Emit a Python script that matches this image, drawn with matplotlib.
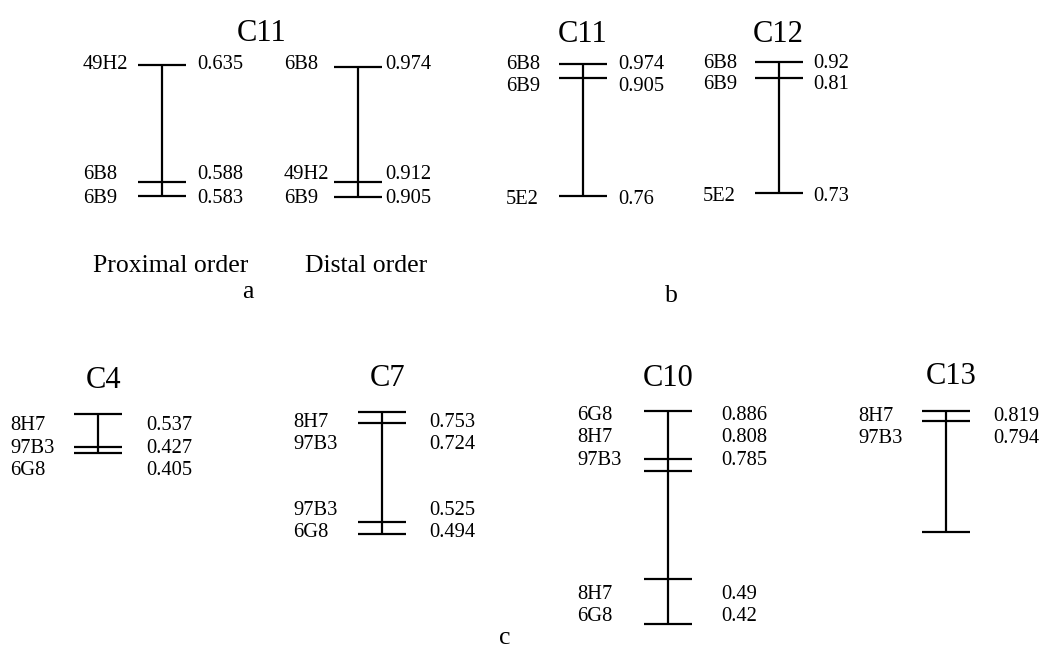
import matplotlib
matplotlib.use('Agg')
import matplotlib.pyplot as plt

plt.rcParams['font.family'] = 'Liberation Serif'

# marker names and recombination values for each linkage group
a_prox_names = ['49H2', '6B8', '6B9']
a_prox_vals = [0.635, 0.588, 0.583]
a_dist_names = ['6B8', '49H2', '6B9']
a_dist_vals = [0.974, 0.912, 0.905]

b_c11_names = ['6B8', '6B9', '5E2']
b_c11_vals = [0.974, 0.905, 0.76]
b_c12_names = ['6B8', '6B9', '5E2']
b_c12_vals = [0.92, 0.81, 0.73]

c4_names = ['8H7', '97B3', '6G8']
c4_vals = [0.537, 0.427, 0.405]
c7_names = ['8H7', '97B3', '97B3', '6G8']
c7_vals = [0.753, 0.724, 0.525, 0.494]
c10_names = ['6G8', '8H7', '97B3', '8H7', '6G8']
c10_vals = [0.886, 0.808, 0.785, 0.49, 0.42]
c13_names = ['8H7', '97B3']
c13_vals = [0.819, 0.794]

fig = plt.figure(figsize=(10.47, 6.48), dpi=100)
ax = fig.add_axes([0, 0, 1, 1])
ax.set_xlim(0, 1047)
ax.set_ylim(648, 0)
ax.axis('off')

LW = 1.6
SMALL = 14.8
BIG = 22
MID = 18.5


def draw_map(xc, ticks, names, vals, label_y, name_x, val_x, title=None, title_xy=None):
    # vertical bar with a short crossbar at each marker
    ax.plot([xc, xc], [min(ticks), max(ticks)], color='black', lw=LW, solid_capstyle='butt')
    for t in ticks:
        ax.plot([xc - 24, xc + 24], [t, t], color='black', lw=LW, solid_capstyle='butt')
    for n, v, y in zip(names, vals, label_y):
        ax.text(name_x, y, n, fontsize=SMALL, ha='left', va='center_baseline')
        ax.text(val_x, y, f'{v:g}', fontsize=SMALL, ha='left', va='center_baseline')
    if title:
        ax.text(title_xy[0], title_xy[1], title, fontsize=BIG, ha='center', va='center_baseline')


# a
draw_map(162, [65, 182, 196], a_prox_names, a_prox_vals, [62, 172, 196], 83, 197)
draw_map(358, [67, 182, 197], a_dist_names, a_dist_vals, [62, 172, 196], 284, 385)
ax.text(262, 30, 'C11', fontsize=BIG, ha='center', va='center_baseline')
ax.text(171, 264, 'Proximal order', fontsize=MID, ha='center', va='center_baseline')
ax.text(366, 264, 'Distal order', fontsize=MID, ha='center', va='center_baseline')
ax.text(248, 289, 'a', fontsize=MID, ha='center', va='center_baseline')

# b
draw_map(583, [64, 78, 196], b_c11_names, b_c11_vals, [62, 84, 197], 506, 618, 'C11', (583, 31))
draw_map(779, [62, 78, 193], b_c12_names, b_c12_vals, [61, 82, 194], 703, 813, 'C12', (778, 31))
ax.text(671, 294, 'b', fontsize=MID, ha='center', va='center_baseline')

# c
draw_map(98, [414, 447, 453], c4_names, c4_vals, [423, 446, 468], 10, 146, 'C4', (104, 377))
draw_map(382, [412, 423, 522, 534], c7_names, c7_vals, [420, 442, 508, 530], 293, 429, 'C7', (388, 375))
draw_map(668, [411, 459, 471, 579, 624], c10_names, c10_vals, [413, 435, 458, 592, 614], 577, 721, 'C10', (668, 375))
draw_map(946, [411, 421, 532], c13_names, c13_vals, [414, 436], 858, 993, 'C13', (951, 373))
ax.text(505, 636, 'c', fontsize=MID, ha='center', va='center_baseline')

fig.savefig('out.png', dpi=100)
